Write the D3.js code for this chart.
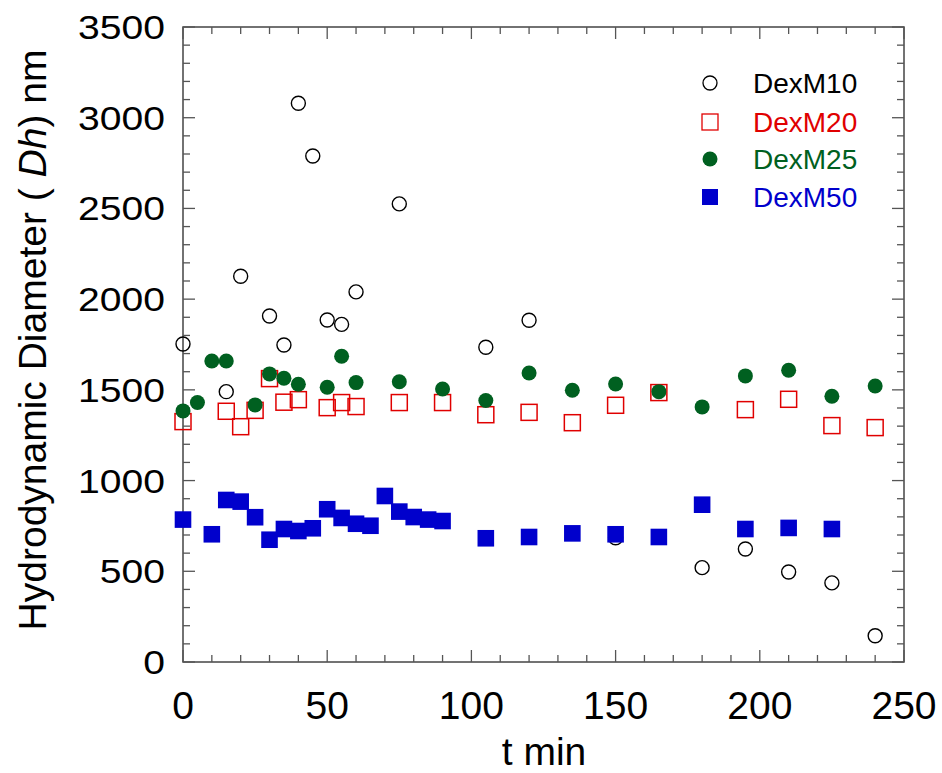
<!DOCTYPE html>
<html>
<head>
<meta charset="utf-8">
<script src="https://cdn.jsdelivr.net/npm/d3@7/dist/d3.min.js"></script>
<style>
  body { margin: 0; background: #fff; }
  text { font-family: "Liberation Sans", Arial, sans-serif; }
</style>
</head>
<body>
<svg id="chart" width="942" height="773"></svg>
<script>
// DexM10 (open black circles)
var tDexM10 = [0, 15, 20, 30, 35, 40, 45, 50, 55, 60, 75, 105, 120, 150, 180, 195, 210, 225, 240]
var dhDexM10 = [1753, 1490, 2126, 1907, 1747, 3080, 2789, 1885, 1861, 2040, 2525, 1735, 1884, 685, 520, 623, 496, 436, 145]

// DexM20 (open red squares)
var tDexM20 = [0, 15, 20, 25, 30, 35, 40, 50, 55, 60, 75, 90, 105, 120, 135, 150, 165, 195, 210, 225, 240]
var dhDexM20 = [1325, 1382, 1297, 1387, 1562, 1432, 1446, 1402, 1430, 1408, 1430, 1430, 1363, 1376, 1319, 1415, 1485, 1391, 1448, 1303, 1292]

// DexM25 (filled green circles)
var tDexM25 = [0, 5, 10, 15, 25, 30, 35, 40, 50, 55, 60, 75, 90, 105, 120, 135, 150, 165, 180, 195, 210, 225, 240]
var dhDexM25 = [1384, 1430, 1659, 1659, 1417, 1588, 1564, 1531, 1514, 1685, 1540, 1545, 1505, 1441, 1593, 1498, 1532, 1490, 1406, 1577, 1608, 1465, 1521]

// DexM50 (filled blue squares)
var tDexM50 = [0, 10, 15, 20, 25, 30, 35, 40, 45, 50, 55, 60, 65, 70, 75, 80, 85, 90, 105, 120, 135, 150, 165, 180, 195, 210, 225]
var dhDexM50 = [785, 704, 893, 884, 798, 674, 733, 722, 737, 842, 794, 762, 751, 915, 829, 799, 785, 777, 682, 689, 709, 704, 689, 867, 733, 739, 733]

var seriesNames = ["DexM10", "DexM20", "DexM25", "DexM50"]
var xTicks = [0, 50, 100, 150, 200, 250]
var yTicks = [0, 500, 1000, 1500, 2000, 2500, 3000, 3500]

var colors = {DexM10: "#000000", DexM20: "#e00000", DexM25: "#006020", DexM50: "#0000cc"}

// plot box (px)
var boxL = 183, boxR = 904, boxT = 27, boxB = 662

var x = d3.scaleLinear().domain([0, 250]).range([boxL, boxR])
var y = d3.scaleLinear().domain([0, 3500]).range([boxB, boxT])

var svg = d3.select("#chart")

function zip(ts, vs) {
  return ts.map(function(t, i) { return {t: t, v: vs[i]} })
}

// frame
svg.append("rect")
   .attr("x", boxL).attr("y", boxT)
   .attr("width", boxR - boxL).attr("height", boxB - boxT)
   .attr("fill", "none")
   .attr("stroke", "#444")
   .attr("stroke-width", 1.5)

// ticks on all four sides, pointing inward
var minorX = d3.range(0, 251, 10)
var minorY = d3.range(0, 3501, 100)
var tickG = svg.append("g").attr("stroke", "#555").attr("stroke-width", 1.3)

minorX.forEach(function(t) {
  var len = (t % 50 === 0) ? 12 : 7
  tickG.append("line").attr("x1", x(t)).attr("x2", x(t)).attr("y1", boxB).attr("y2", boxB - len)
  tickG.append("line").attr("x1", x(t)).attr("x2", x(t)).attr("y1", boxT).attr("y2", boxT + len)
})
minorY.forEach(function(v) {
  var len = (v % 500 === 0) ? 12 : 7
  tickG.append("line").attr("y1", y(v)).attr("y2", y(v)).attr("x1", boxL).attr("x2", boxL + len)
  tickG.append("line").attr("y1", y(v)).attr("y2", y(v)).attr("x1", boxR).attr("x2", boxR - len)
})

// tick labels
svg.selectAll("text.xt")
   .data(xTicks)
   .enter()
   .append("text")
   .attr("class", "xt")
   .attr("x", function(d) { return x(d) })
   .attr("y", 719)
   .attr("text-anchor", "middle")
   .attr("font-size", 39)
   .text(function(d) { return d })

// y labels are drawn a bit wider than normal in the original
svg.selectAll("text.yt")
   .data(yTicks)
   .enter()
   .append("text")
   .attr("class", "yt")
   .attr("transform", function(d) { return "translate(165," + (y(d) + 12) + ") scale(1.15,1)" })
   .attr("text-anchor", "end")
   .attr("font-size", 34)
   .text(function(d) { return d })

// axis titles
svg.append("text")
   .attr("x", 544).attr("y", 765)
   .attr("text-anchor", "middle")
   .attr("font-size", 39)
   .text("t min")

var yTitle = svg.append("text")
   .attr("transform", "translate(46,340) rotate(-90)")
   .attr("text-anchor", "middle")
   .attr("font-size", 39)
yTitle.append("tspan").text("Hydrodynamic Diameter ( ")
yTitle.append("tspan").attr("font-style", "italic").text("Dh")
yTitle.append("tspan").text(") nm")

// marks
var plot = svg.append("g")

plot.selectAll("circle.m10")
    .data(zip(tDexM10, dhDexM10))
    .enter()
    .append("circle")
    .attr("class", "m10")
    .attr("cx", function(d) { return x(d.t) })
    .attr("cy", function(d) { return y(d.v) })
    .attr("r", 7)
    .attr("fill", "none")
    .attr("stroke", colors.DexM10)
    .attr("stroke-width", 1.4)

plot.selectAll("rect.m20")
    .data(zip(tDexM20, dhDexM20))
    .enter()
    .append("rect")
    .attr("class", "m20")
    .attr("x", function(d) { return x(d.t) - 8 })
    .attr("y", function(d) { return y(d.v) - 8 })
    .attr("width", 16).attr("height", 16)
    .attr("fill", "none")
    .attr("stroke", colors.DexM20)
    .attr("stroke-width", 1.5)

plot.selectAll("circle.m25")
    .data(zip(tDexM25, dhDexM25))
    .enter()
    .append("circle")
    .attr("class", "m25")
    .attr("cx", function(d) { return x(d.t) })
    .attr("cy", function(d) { return y(d.v) })
    .attr("r", 7.5)
    .attr("fill", colors.DexM25)

plot.selectAll("rect.m50")
    .data(zip(tDexM50, dhDexM50))
    .enter()
    .append("rect")
    .attr("class", "m50")
    .attr("x", function(d) { return x(d.t) - 8.3 })
    .attr("y", function(d) { return y(d.v) - 8.3 })
    .attr("width", 16.6).attr("height", 16.6)
    .attr("fill", colors.DexM50)

// legend
var legend = svg.append("g")
var rowY = [83, 122, 159, 197]
seriesNames.forEach(function(name, i) {
  var ly = rowY[i]
  if (i === 0) {
    legend.append("circle").attr("cx", 710).attr("cy", ly).attr("r", 7)
          .attr("fill", "none").attr("stroke", colors[name]).attr("stroke-width", 1.3)
  } else if (i === 1) {
    legend.append("rect").attr("x", 702).attr("y", ly - 8).attr("width", 16).attr("height", 16)
          .attr("fill", "none").attr("stroke", colors[name]).attr("stroke-width", 1.3)
  } else if (i === 2) {
    legend.append("circle").attr("cx", 710).attr("cy", ly).attr("r", 7.5)
          .attr("fill", colors[name])
  } else {
    legend.append("rect").attr("x", 702).attr("y", ly - 8).attr("width", 16).attr("height", 16)
          .attr("fill", colors[name])
  }
  legend.append("text")
        .attr("x", 753).attr("y", ly + 10)
        .attr("font-size", 28)
        .attr("fill", colors[name])
        .text(name)
})
</script>
</body>
</html>
